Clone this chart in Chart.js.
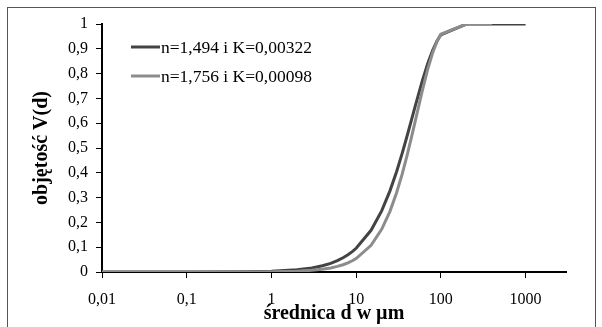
<!DOCTYPE html>
<html>
<head>
<meta charset="utf-8">
<script src="https://cdn.jsdelivr.net/npm/chart.js@4.4.1/dist/chart.umd.min.js"></script>
<style>
html,body{margin:0;padding:0;background:#fff;}
canvas{display:block;}
</style>
</head>
<body>
<canvas id="c" width="602" height="327"></canvas>
<script>
const diameters = [0.01, 0.1, 0.5, 1, 2, 3, 4, 5, 6, 7, 8, 9, 10, 15, 20, 25, 30, 35, 40, 45, 50, 60, 70, 80, 90, 100, 200, 300, 400, 500, 600, 700, 800, 900, 1000];
const seriesA = [0, 0.0001, 0.0011, 0.0032, 0.0090, 0.0165, 0.0252, 0.0350, 0.0457, 0.0573, 0.0695, 0.0822, 0.0956, 0.1681, 0.2464, 0.3262, 0.4045, 0.4794, 0.5493, 0.6133, 0.6711, 0.7679, 0.8410, 0.8942, 0.9313, 0.9564, 0.9998, 1, 1, 1, 1, 1, 1, 1, 1];
const seriesB = [0, 0, 0.0003, 0.0010, 0.0033, 0.0067, 0.0111, 0.0164, 0.0225, 0.0294, 0.0371, 0.0454, 0.0543, 0.1076, 0.1720, 0.2435, 0.3194, 0.3955, 0.4713, 0.5436, 0.6106, 0.7273, 0.8179, 0.8839, 0.9292, 0.9587, 1, 1, 1];
const seriesNames = ["n=1,494 i K=0,00322", "n=1,756 i K=0,00098"];
const xTicks = [0.01, 0.1, 1, 10, 100, 1000];
const xTickLabels = ["0,01", "0,1", "1", "10", "100", "1000"];
const xTitle = "średnica d w µm";
const yTitle = "objętość V(d)";

const colors = ["#434343", "#8c8c8c"];
const FONT = "'Liberation Serif', 'Times New Roman', serif";

function pts(vals){ return vals.map((v,i)=>({x: diameters[i], y: v})); }

const frame = {
  id: 'frame',
  beforeDraw(chart){
    const ctx = chart.ctx;
    ctx.save();
    ctx.fillStyle = '#fff';
    ctx.fillRect(0,0,chart.width,chart.height);
    ctx.strokeStyle = '#555';
    ctx.lineWidth = 1;
    ctx.strokeRect(7.5, 7.5, 588, 340);
    ctx.restore();
  },
  afterDraw(chart){
    const ctx = chart.ctx;
    ctx.save();
    const ys = [47, 76];
    ctx.font = "17.5px " + FONT;
    ctx.textBaseline = 'middle';
    ctx.textAlign = 'left';
    for (let i=0;i<2;i++){
      ctx.strokeStyle = colors[i];
      ctx.lineWidth = 3;
      ctx.beginPath();
      ctx.moveTo(131, ys[i]);
      ctx.lineTo(160, ys[i]);
      ctx.stroke();
      ctx.fillStyle = '#000';
      ctx.fillText(seriesNames[i], 161, ys[i]+1);
    }
    ctx.restore();
  }
};

new Chart(document.getElementById('c'), {
  type: 'line',
  data: {
    datasets: [
      { label: seriesNames[0], data: pts(seriesA), borderColor: colors[0], borderWidth: 3, pointRadius: 0, tension: 0, fill: false, order: 2 },
      { label: seriesNames[1], data: pts(seriesB), borderColor: colors[1], borderWidth: 3, pointRadius: 0, tension: 0, fill: false, order: 1 }
    ]
  },
  options: {
    responsive: false,
    animation: false,
    devicePixelRatio: 1,
    layout: { padding: { left: 0, right: 36, top: 24, bottom: 0 } },
    plugins: { legend: { display: false }, tooltip: { enabled: false } },
    scales: {
      x: {
        type: 'logarithmic',
        min: 0.01,
        max: 3000,
        afterBuildTicks(scale){ scale.ticks = xTicks.map(v=>({value:v})); },
        afterFit(scale){ scale.height = 55; },
        ticks: {
          autoSkip: false, maxRotation: 0, padding: 12, color: '#000',
          font: { family: FONT, size: 16 },
          callback(v){ const i = xTicks.indexOf(v); return i>=0 ? xTickLabels[i] : ''; }
        },
        grid: { drawOnChartArea: false, color: '#000', lineWidth: 1, tickLength: 6 },
        border: { color: '#000', width: 2 },
        title: { display: true, text: xTitle, color: '#000', font: { family: FONT, size: 20, weight: 'bold' }, padding: { top: 0, bottom: 1 } }
      },
      y: {
        min: 0, max: 1,
        afterFit(scale){ scale.width = 102; },
        ticks: {
          stepSize: 0.1, padding: 8, color: '#000',
          font: { family: FONT, size: 16 },
          callback(v){ const r = Math.round(v*10)/10; return String(r).replace('.', ','); }
        },
        grid: { drawOnChartArea: false, color: '#000', lineWidth: 1, tickLength: 6 },
        border: { color: '#000', width: 2 },
        title: { display: true, text: yTitle, color: '#000', font: { family: FONT, size: 20, weight: 'bold' }, padding: { top: 30, bottom: 0 } }
      }
    }
  },
  plugins: [frame]
});
</script>
</body>
</html>
